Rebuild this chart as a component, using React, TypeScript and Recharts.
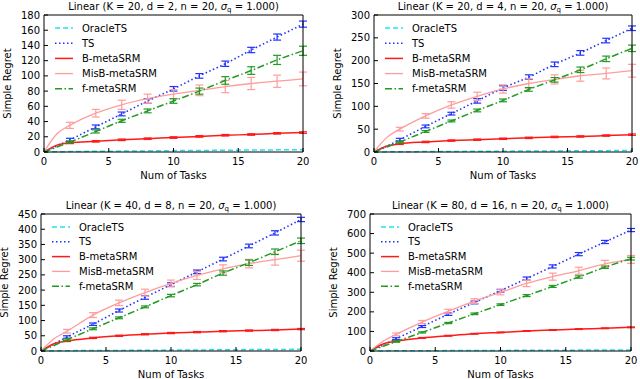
import React from 'react';
import { LineChart, Line, XAxis, YAxis, ErrorBar, Label } from 'recharts';

// ---------- data ----------
const TASKS = [0, 1, 2, 4, 6, 8, 10, 12, 14, 16, 18, 20];
const X_TICKS = [0, 5, 10, 15, 20];
const PANEL_K = [20, 20, 40, 80];
const PANEL_D = [2, 4, 8, 16];
const PANEL_N = 20;
const SIGMA_Q = '1.000';

// Panel 1 (K=20, d=2)
const P1_Y_TICKS = [0, 20, 40, 60, 80, 100, 120, 140, 160, 180];
const P1_ORACLE = [0, 0.3, 0.6, 0.9, 1.2, 1.5, 1.8, 2.0, 2.3, 2.6, 2.8, 3.0];
const P1_TS = [0, 8, 16, 33, 50, 67, 83, 100, 116, 134, 151, 168];
const P1_B = [0, 9, 12, 14, 16, 17.5, 19, 20.5, 22, 23, 24.5, 25.5];
const P1_MISB = [0, 24, 35, 51, 62, 70, 76, 81, 86, 90, 93, 96];
const P1_F = [0, 6.5, 13, 27, 41, 54, 67, 80, 94, 107, 121, 133];
const P1_TS_ERR = [null, null, 2, 2.5, 2.5, 3, 3, 3, 3.5, 3.5, 4, 4];
const P1_B_ERR = [null, null, 1, 1, 1, 1, 1, 1, 1, 1, 1, 1];
const P1_MISB_ERR = [null, null, 4, 5, 6, 6, 6, 7, 8, 8, 8, 9];
const P1_F_ERR = [null, null, 1.5, 2, 2, 2.5, 3, 4, 5, 5, 6, 6];

// Panel 2 (K=20, d=4)
const P2_Y_TICKS = [0, 50, 100, 150, 200, 250, 300];
const P2_ORACLE = [0, 0.3, 0.6, 0.9, 1.2, 1.5, 1.8, 2.1, 2.4, 2.7, 3.0, 3.3];
const P2_TS = [0, 13, 27, 56, 84, 112, 140, 164, 192, 217, 244, 271];
const P2_B = [0, 13, 18, 22, 25, 27, 29, 31, 33, 34, 36, 38];
const P2_MISB = [0, 32, 50, 79, 103, 122, 138, 150, 159, 167, 172, 178];
const P2_F = [0, 11, 22, 45, 68, 91, 113, 137, 158, 180, 204, 227];
const P2_TS_ERR = [null, null, 3, 3, 3, 5, 5, 5, 5, 5, 5, 5];
const P2_B_ERR = [null, null, 1.5, 1.5, 1.5, 1.5, 1.5, 1.5, 1.5, 1.5, 1.5, 1.5];
const P2_MISB_ERR = [null, null, 4, 5, 7, 9, 9, 10, 10, 12, 12, 14];
const P2_F_ERR = [null, null, 2, 2, 2, 3, 3, 4, 5, 6, 6, 7];

// Panel 3 (K=40, d=8)
const P3_Y_TICKS = [0, 50, 100, 150, 200, 250, 300, 350, 400, 450];
const P3_ORACLE = [0, 0.5, 1, 1.5, 2, 2.5, 3, 3.5, 4, 4.5, 5, 5.5];
const P3_TS = [0, 23, 46, 88, 133, 176, 218, 260, 302, 345, 388, 432];
const P3_B = [0, 24, 33, 43, 50, 55, 59, 62, 65, 67, 69, 72];
const P3_MISB = [0, 40, 65, 118, 158, 192, 222, 248, 270, 287, 300, 313];
const P3_F = [0, 18, 37, 73, 109, 145, 182, 218, 256, 290, 326, 362];
const P3_TS_ERR = [null, null, 4, 4, 5, 6, 6, 6, 6, 6, 7, 7];
const P3_B_ERR = [null, null, 2, 2, 2, 2, 2, 2, 2, 2, 2, 2];
const P3_MISB_ERR = [null, null, 6, 8, 9, 11, 11, 13, 13, 14, 18, 18];
const P3_F_ERR = [null, null, 3, 3, 3, 3, 4, 4, 7, 9, 9, 9];

// Panel 4 (K=80, d=16)
const P4_Y_TICKS = [0, 100, 200, 300, 400, 500, 600, 700];
const P4_ORACLE = [0, 0.5, 1, 1.5, 2, 2.5, 3, 3.5, 4, 4.5, 5, 5.5];
const P4_TS = [0, 31, 63, 125, 188, 248, 308, 370, 432, 495, 557, 618];
const P4_B = [0, 36, 50, 67, 78, 88, 95, 102, 107, 112, 116, 121];
const P4_MISB = [0, 50, 85, 148, 203, 255, 300, 345, 380, 410, 445, 468];
const P4_F = [0, 24, 48, 95, 143, 190, 237, 283, 330, 378, 428, 472];
const P4_TS_ERR = [null, null, 5, 5, 6, 7, 7, 8, 8, 8, 8, 8];
const P4_B_ERR = [null, null, 2, 2, 2, 2, 2, 2, 2, 2, 2, 2];
const P4_MISB_ERR = [null, null, 7, 8, 10, 12, 13, 16, 18, 18, 18, 20];
const P4_F_ERR = [null, null, 3, 3, 3, 4, 4, 5, 5, 6, 6, 7];

// ---------- styles ----------
const SERIES = [
  { key: 'oracle', name: 'OracleTS', color: '#1fe3ee', dash: '5 3', width: 1.5 },
  { key: 'ts', name: 'TS', color: '#2233ff', dash: '1.5 2.5', width: 1.6 },
  { key: 'b', name: 'B-metaSRM', color: '#ff1a1a', dash: undefined, width: 1.5 },
  { key: 'misb', name: 'MisB-metaSRM', color: '#ff9c9c', dash: undefined, width: 1.3 },
  { key: 'f', name: 'f-metaSRM', color: '#239a23', dash: '7 2.5 1.5 2.5', width: 1.5 },
];

function buildRows(o: number[], ts: number[], b: number[], misb: number[], f: number[],
  tsE: (number | null)[], bE: (number | null)[], misbE: (number | null)[], fE: (number | null)[]) {
  return TASKS.map((x, i) => ({
    x, oracle: o[i], ts: ts[i], b: b[i], misb: misb[i], f: f[i],
    tsErr: tsE[i], bErr: bE[i], misbErr: misbE[i], fErr: fE[i],
  }));
}

const PANELS = [
  { left: 0, top: 0, w: 320, h: 189, pl: 44, pt: 15, pr: 303, pb: 152, rowH: 15.2,
    ticks: P1_Y_TICKS,
    rows: buildRows(P1_ORACLE, P1_TS, P1_B, P1_MISB, P1_F, P1_TS_ERR, P1_B_ERR, P1_MISB_ERR, P1_F_ERR) },
  { left: 320, top: 0, w: 320, h: 189, pl: 54, pt: 15, pr: 312, pb: 152, rowH: 15.2,
    ticks: P2_Y_TICKS,
    rows: buildRows(P2_ORACLE, P2_TS, P2_B, P2_MISB, P2_F, P2_TS_ERR, P2_B_ERR, P2_MISB_ERR, P2_F_ERR) },
  { left: 0, top: 189, w: 320, h: 190, pl: 41, pt: 25, pr: 301, pb: 162, rowH: 14.8,
    ticks: P3_Y_TICKS,
    rows: buildRows(P3_ORACLE, P3_TS, P3_B, P3_MISB, P3_F, P3_TS_ERR, P3_B_ERR, P3_MISB_ERR, P3_F_ERR) },
  { left: 320, top: 189, w: 320, h: 190, pl: 50, pt: 25, pr: 311, pb: 162, rowH: 14.8,
    ticks: P4_Y_TICKS,
    rows: buildRows(P4_ORACLE, P4_TS, P4_B, P4_MISB, P4_F, P4_TS_ERR, P4_B_ERR, P4_MISB_ERR, P4_F_ERR) },
];

const FONT = 10;
const tickStyle = { fontSize: FONT, fill: '#000' };

// Legend drawn in SVG coordinates of the panel
function LegendSvg({ p }: { p: any }) {
  return (
    <svg width={p.w} height={p.h}
      style={{ position: 'absolute', left: 0, top: 0, pointerEvents: 'none', overflow: 'visible' }}>
      {SERIES.map((s, i) => {
        const y = p.pt + 13 + i * p.rowH;
        return (
          <g key={s.key}>
            <line x1={p.pl + 11} x2={p.pl + 29} y1={y} y2={y} stroke={s.color}
              strokeWidth={s.width} strokeDasharray={s.dash} />
            <text x={p.pl + 38} y={y + 3.6} fontSize={FONT} fill="#000"
              fontFamily="DejaVu Sans">{s.name}</text>
          </g>
        );
      })}
    </svg>
  );
}

function Panel({ idx }: { idx: number }) {
  const p = PANELS[idx];
  const ymax = p.ticks[p.ticks.length - 1];
  const bottomH = p.h - p.pb;
  const plotW = p.pr - p.pl;
  const plotH = p.pb - p.pt;
  const cx = p.pl + plotW / 2;
  const cy = p.pt + plotH / 2;
  return (
    <div style={{ position: 'absolute', left: p.left, top: p.top, width: p.w, height: p.h }}>
      <LineChart width={p.w} height={p.h} data={p.rows}
        margin={{ top: p.pt - 1, right: p.w - p.pr - 1, bottom: 0, left: 0 }}>
        <XAxis dataKey="x" type="number" domain={[0, 20]} ticks={X_TICKS} interval={0}
          height={bottomH} tickSize={-4} tickMargin={10} tick={tickStyle}
          axisLine={{ stroke: '#000' }} tickLine={{ stroke: '#000' }}>
          <Label content={() => (
            <text x={cx} y={p.pb + 27} textAnchor="middle" fontSize={FONT} fill="#000">Num of Tasks</text>
          )} />
        </XAxis>
        <XAxis xAxisId="t" orientation="top" type="number" domain={[0, 20]} ticks={X_TICKS}
          interval={0} height={1} tickSize={-4} tick={false}
          axisLine={{ stroke: '#000' }} tickLine={{ stroke: '#000' }}>
          <Label content={() => (
            <text x={cx} y={p.pt - 5} textAnchor="middle" fontSize={FONT} fill="#000">
              {`Linear (K = ${PANEL_K[idx]}, d = ${PANEL_D[idx]}, n = ${PANEL_N}, `}
              <tspan fontStyle="italic">σ</tspan>
              <tspan fontSize={7} dy={2}>q</tspan>
              <tspan dy={-2}>{` = ${SIGMA_Q})`}</tspan>
            </text>
          )} />
        </XAxis>
        <YAxis type="number" domain={[0, ymax]} ticks={p.ticks} interval={0} width={p.pl}
          tickSize={-4} tickMargin={8} tick={tickStyle}
          axisLine={{ stroke: '#000' }} tickLine={{ stroke: '#000' }}>
          <Label content={() => (
            <text x={p.pl - 33} y={cy} textAnchor="middle" fontSize={FONT} fill="#000"
              transform={`rotate(-90 ${p.pl - 33} ${cy})`}>Simple Regret</text>
          )} />
        </YAxis>
        <YAxis yAxisId="r" orientation="right" type="number" domain={[0, ymax]} ticks={p.ticks}
          interval={0} width={1} tickSize={-4} tick={false}
          axisLine={{ stroke: '#000' }} tickLine={{ stroke: '#000' }} />
        {SERIES.map((s) => (
          <Line key={s.key} dataKey={s.key} name={s.name} type="monotone" stroke={s.color}
            strokeWidth={s.width} strokeDasharray={s.dash} dot={false} activeDot={false}
            isAnimationActive={false}>
            {s.key !== 'oracle' && (
              <ErrorBar dataKey={`${s.key}Err`} direction="y" width={4} stroke={s.color}
                strokeWidth={1.2} isAnimationActive={false} />
            )}
          </Line>
        ))}
      </LineChart>
      <LegendSvg p={p} />
    </div>
  );
}

export default function App() {
  return (
    <div style={{ position: 'absolute', left: 0, top: 0, width: 640, height: 379,
      background: '#fff', fontFamily: 'DejaVu Sans', overflow: 'hidden' }}>
      {PANELS.map((_, i) => <Panel key={i} idx={i} />)}
    </div>
  );
}
